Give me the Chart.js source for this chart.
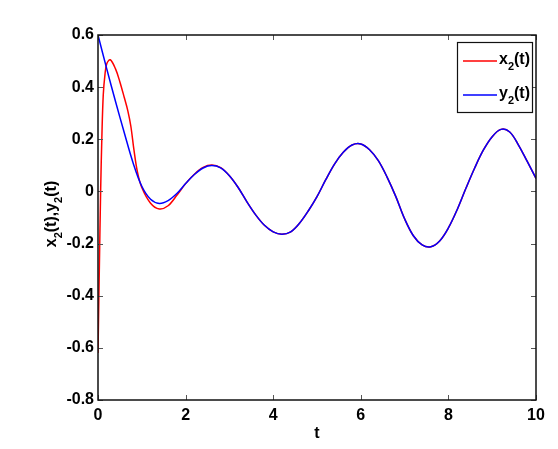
<!DOCTYPE html>
<html>
<head>
<meta charset="utf-8">
<script src="https://cdn.jsdelivr.net/npm/chart.js@4.4.1/dist/chart.umd.min.js"></script>
<style>
    html, body { margin: 0; padding: 0; background: #fff; }
    #wrap { width: 558px; height: 449px; position: relative; }
</style>
</head>
<body>
<div id="wrap"><canvas id="c" width="558" height="449"></canvas></div>
<script>
// 数据
const blueT = [0, 0.2, 0.4, 0.6, 0.8, 1.0, 1.2, 1.4, 1.6, 1.8, 2.0, 2.2, 2.4, 2.6, 2.8, 3.0,
    3.2, 3.4, 3.6, 3.8, 4.0, 4.2, 4.4, 4.6, 4.8, 5.0, 5.2, 5.4, 5.6, 5.8, 6.0, 6.2, 6.4, 6.6,
    6.8, 7.0, 7.2, 7.4, 7.6, 7.8, 8.0, 8.2, 8.4, 8.6, 8.8, 9.0, 9.2, 9.4, 9.6, 9.8, 10.0];
const y2Values = [0.60, 0.47, 0.345, 0.225, 0.11, 0.02, -0.03, -0.046, -0.035, -0.008, 0.03,
    0.065, 0.09, 0.099, 0.09, 0.06, 0.015, -0.04, -0.09, -0.13, -0.155, -0.164, -0.155, -0.122,
    -0.075, -0.02, 0.045, 0.105, 0.15, 0.178, 0.182, 0.16, 0.118, 0.055, -0.02, -0.105, -0.17,
    -0.205, -0.212, -0.19, -0.14, -0.07, 0.012, 0.09, 0.159, 0.21, 0.238, 0.228, 0.178, 0.115, 0.05];

const redT = [0, 0.03, 0.06, 0.09, 0.12, 0.16, 0.2, 0.28, 0.4, 0.5, 0.6, 0.68, 0.75, 0.82,
    0.9, 1.0, 1.2, 1.4, 1.6, 1.8, 2.0, 2.2, 2.4, 2.6, 2.8, 3.0,
    3.2, 3.4, 3.6, 3.8, 4.0, 4.2, 4.4, 4.6, 4.8, 5.0, 5.2, 5.4, 5.6, 5.8, 6.0, 6.2, 6.4, 6.6,
    6.8, 7.0, 7.2, 7.4, 7.6, 7.8, 8.0, 8.2, 8.4, 8.6, 8.8, 9.0, 9.2, 9.4, 9.6, 9.8, 10.0];
const x2Values = [-0.62, -0.3, 0.0, 0.22, 0.37, 0.45, 0.49, 0.505, 0.47, 0.42, 0.36, 0.31, 0.25,
    0.16, 0.075, 0.015, -0.045, -0.067, -0.055, -0.015, 0.03,
    0.066, 0.092, 0.101, 0.091, 0.06, 0.015, -0.04, -0.09, -0.13, -0.155, -0.164, -0.155, -0.122,
    -0.075, -0.02, 0.045, 0.105, 0.15, 0.178, 0.182, 0.16, 0.118, 0.055, -0.02, -0.105, -0.17,
    -0.205, -0.212, -0.19, -0.14, -0.07, 0.012, 0.09, 0.159, 0.21, 0.238, 0.228, 0.178, 0.115, 0.05];

const xTicks = [0, 2, 4, 6, 8, 10];
const yTicks = [-0.8, -0.6, -0.4, -0.2, 0, 0.2, 0.4, 0.6];

const fontFam = '"Liberation Sans", Arial, sans-serif';

const toPoints = (ts, vs) => ts.map((t, i) => ({ x: t, y: vs[i] }));

// 画坐标框、内刻度、y轴标题和图例
const matlabAxes = {
    id: 'matlabAxes',
    afterDatasetsDraw(chart) {
        const { ctx, chartArea: a, scales } = chart;
        ctx.save();
        // 刻度
        ctx.strokeStyle = '#555';
        ctx.lineWidth = 1;
        xTicks.forEach(v => {
            const px = Math.round(scales.x.getPixelForValue(v)) + 0.5;
            ctx.beginPath();
            ctx.moveTo(px, a.bottom); ctx.lineTo(px, a.bottom - 5);
            ctx.moveTo(px, a.top); ctx.lineTo(px, a.top + 5);
            ctx.stroke();
        });
        yTicks.forEach(v => {
            const py = Math.round(scales.y.getPixelForValue(v)) + 0.5;
            ctx.beginPath();
            ctx.moveTo(a.left, py); ctx.lineTo(a.left + 5, py);
            ctx.moveTo(a.right, py); ctx.lineTo(a.right - 5, py);
            ctx.stroke();
        });
        // 外框
        ctx.strokeStyle = '#111';
        ctx.lineWidth = 1.5;
        ctx.strokeRect(a.left, a.top, a.right - a.left, a.bottom - a.top);

        // y轴标题（带下标）
        ctx.translate(53, 214);
        ctx.rotate(-Math.PI / 2);
        drawSub(ctx, [['x', 0], ['2', 1], ['(t),y', 0], ['2', 1], ['(t)', 0]], 0, 0, 16, true);
        ctx.restore();

        // 图例
        ctx.save();
        const lx = 457, ly = 42, lw = 75, lh = 70;
        ctx.fillStyle = '#fff';
        ctx.fillRect(lx, ly, lw, lh);
        ctx.strokeStyle = '#111';
        ctx.lineWidth = 1.2;
        ctx.strokeRect(lx + 0.5, ly + 0.5, lw, lh);
        const items = [['x', '#ff0000', 61], ['y', '#0000ff', 95]];
        items.forEach(([name, color, y]) => {
            ctx.strokeStyle = color;
            ctx.lineWidth = 1.5;
            ctx.beginPath();
            ctx.moveTo(463, y); ctx.lineTo(497, y);
            ctx.stroke();
            drawSub(ctx, [[name, 0], ['2', 1], ['(t)', 0]], 499, y, 16, false);
        });
        ctx.restore();
    }
};

// 逐段绘制文字，下标段缩小并下移
function drawSub(ctx, parts, x, y, size, centered) {
    const font = (sub) => `bold ${sub ? Math.round(size * 0.7) : size}px ${fontFam}`;
    let total = 0;
    parts.forEach(([s, sub]) => { ctx.font = font(sub); total += ctx.measureText(s).width; });
    let cx = centered ? x - total / 2 : x;
    ctx.fillStyle = '#000';
    ctx.textBaseline = 'middle';
    ctx.textAlign = 'left';
    parts.forEach(([s, sub]) => {
        ctx.font = font(sub);
        ctx.fillText(s, cx, sub ? y + size * 0.4 : y - 1);
        cx += ctx.measureText(s).width;
    });
}

new Chart(document.getElementById('c'), {
    type: 'line',
    data: {
        datasets: [
            {
                label: 'x2(t)',
                data: toPoints(redT, x2Values),
                borderColor: '#ff0000',
                borderWidth: 1.5,
                pointRadius: 0,
                tension: 0.35,
                order: 1,
            },
            {
                label: 'y2(t)',
                data: toPoints(blueT, y2Values),
                borderColor: '#0000ff',
                borderWidth: 1.5,
                pointRadius: 0,
                tension: 0.35,
                order: 0,
            },
        ],
    },
    options: {
        responsive: false,
        animation: false,
        layout: { padding: { left: 0, right: 22, top: 35, bottom: 0 } },
        plugins: { legend: { display: false }, tooltip: { enabled: false } },
        scales: {
            x: {
                type: 'linear',
                min: 0, max: 10,
                afterBuildTicks: (s) => { s.ticks = xTicks.map(v => ({ value: v })); },
                afterFit: (s) => { s.height = 49; },
                grid: { display: false, drawTicks: false },
                border: { display: false },
                ticks: {
                    padding: 6,
                    color: '#000',
                    font: { family: fontFam, size: 16, weight: 'bold' },
                    maxRotation: 0,
                },
                title: {
                    display: true,
                    text: 't',
                    color: '#000',
                    padding: { top: 0, bottom: 6 },
                    font: { family: fontFam, size: 16, weight: 'bold' },
                },
            },
            y: {
                type: 'linear',
                min: -0.8, max: 0.6,
                afterBuildTicks: (s) => { s.ticks = yTicks.map(v => ({ value: v })); },
                afterFit: (s) => { s.width = 98; },
                grid: { display: false, drawTicks: false },
                border: { display: false },
                ticks: {
                    padding: 4,
                    color: '#000',
                    font: { family: fontFam, size: 16, weight: 'bold' },
                    callback: (v) => (Math.abs(v) < 1e-9 ? '0' : v.toFixed(1)),
                },
            },
        },
    },
    plugins: [matlabAxes],
});
</script>
</body>
</html>
